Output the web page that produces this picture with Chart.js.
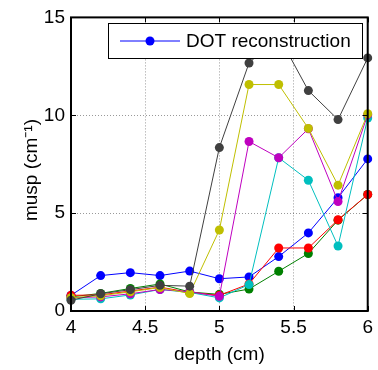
<!DOCTYPE html>
<html>
<head>
<meta charset="utf-8">
<script src="https://cdn.jsdelivr.net/npm/chart.js@4/dist/chart.umd.min.js"></script>
<style>
  html, body { margin: 0; padding: 0; background: #fff; }
  #wrap { width: 378px; height: 370px; }
</style>
</head>
<body>
<div id="wrap"><canvas id="musp"></canvas></div>
<script>
const depth = [4.0, 4.2, 4.4, 4.6, 4.8, 5.0, 5.2, 5.4, 5.6, 5.8, 6.0];

const blueVals    = [0.80, 1.81, 1.96, 1.81, 2.04, 1.65, 1.74, 2.78, 3.99, 5.79, 7.77];
const greenVals   = [0.72, 0.90, 1.15, 1.38, 0.97, 0.85, 1.12, 2.03, 2.94, 4.64, 5.95];
const redVals     = [0.80, 0.82, 1.02, 1.22, 0.95, 0.80, 1.38, 3.22, 3.22, 4.66, 5.95];
const cyanVals    = [0.60, 0.62, 0.82, 1.10, 0.95, 0.67, 1.35, 7.83, 6.68, 3.32, 9.86];
const magentaVals = [0.68, 0.72, 0.88, 1.10, 0.98, 0.75, 8.66, 7.83, 9.31, 5.59, 10.03];
const yellowVals  = [0.68, 0.78, 0.98, 1.20, 0.89, 4.14, 11.57, 11.57, 9.33, 6.43, 10.08];
const grayVals    = [0.55, 0.88, 1.09, 1.31, 1.27, 8.35, 12.67, 14.05, 11.26, 9.78, 12.93];

const xTicks = [4, 4.5, 5, 5.5, 6];
const yTicks = [0, 5, 10, 15];

const legendLabel = "DOT reconstruction";
const yTitle = "musp (cm\u207B\u00B9)";

const FONT = "'Liberation Sans', Arial, sans-serif";
Chart.defaults.font.family = FONT;
Chart.defaults.font.size = 19;
Chart.defaults.color = "#000";

function series(vals, color, order) {
    return {
        data: depth.map((d, i) => ({ x: d, y: vals[i] })),
        borderColor: color,
        backgroundColor: color,
        pointBackgroundColor: color,
        pointBorderWidth: 0,
        pointRadius: 4.5,
        borderWidth: 1,
        tension: 0,
        clip: false,
        order: order,
    };
}

// box, inward ticks, y title and the in-plot legend, drawn MATLAB style
const framePlugin = {
    id: "frame",
    afterDatasetsDraw(chart) {
        const { ctx, chartArea: a, scales } = chart;
        ctx.save();

        // legend box
        const lx = 108, ly = 23, lw = 254, lh = 35;
        ctx.fillStyle = "#fff";
        ctx.fillRect(lx, ly, lw, lh);
        ctx.strokeStyle = "#000";
        ctx.lineWidth = 1;
        ctx.strokeRect(lx + 0.5, ly + 0.5, lw, lh);
        const my = ly + lh / 2 + 0.5;
        ctx.strokeStyle = "#0000ff";
        ctx.beginPath();
        ctx.moveTo(120, my);
        ctx.lineTo(180, my);
        ctx.stroke();
        ctx.fillStyle = "#0000ff";
        ctx.beginPath();
        ctx.arc(150, my, 4.5, 0, Math.PI * 2);
        ctx.fill();
        ctx.fillStyle = "#000";
        ctx.font = "19px " + FONT;
        ctx.textBaseline = "middle";
        ctx.fillText(legendLabel, 186, my + 1);

        // y axis title
        ctx.save();
        ctx.translate(32, 170);
        ctx.rotate(-Math.PI / 2);
        ctx.textAlign = "center";
        ctx.fillText(yTitle, 0, 0);
        ctx.restore();

        // axes box
        ctx.strokeStyle = "#000";
        ctx.lineWidth = 2;
        ctx.strokeRect(a.left, a.top, a.right - a.left, a.bottom - a.top);

        // inward ticks
        ctx.lineWidth = 1;
        const len = 5;
        ctx.beginPath();
        for (const t of xTicks) {
            const x = Math.round(scales.x.getPixelForValue(t)) + 0.5;
            ctx.moveTo(x, a.bottom);
            ctx.lineTo(x, a.bottom - len);
            ctx.moveTo(x, a.top);
            ctx.lineTo(x, a.top + len);
        }
        for (const t of yTicks) {
            const y = Math.round(scales.y.getPixelForValue(t)) + 0.5;
            ctx.moveTo(a.left, y);
            ctx.lineTo(a.left + len, y);
            ctx.moveTo(a.right, y);
            ctx.lineTo(a.right - len, y);
        }
        ctx.stroke();
        ctx.restore();
    },
};

const gridOpts = {
    color: "rgba(0,0,0,0.4)",
    lineWidth: 1,
    drawTicks: false,
};

new Chart(document.getElementById("musp"), {
    type: "line",
    data: {
        datasets: [
            series(grayVals, "#404040", 0),
            series(yellowVals, "#bfbf00", 1),
            series(magentaVals, "#bf00bf", 2),
            series(cyanVals, "#00bfbf", 3),
            series(redVals, "#ff0000", 4),
            series(greenVals, "#008000", 5),
            series(blueVals, "#0000ff", 6),
        ],
    },
    options: {
        responsive: true,
        maintainAspectRatio: false,
        animation: false,
        layout: { autoPadding: false, padding: { left: 0, top: 13, right: 6, bottom: 0 } },
        plugins: { legend: { display: false }, tooltip: { enabled: false } },
        scales: {
            x: {
                type: "linear",
                min: 4,
                max: 6,
                afterBuildTicks: (s) => { s.ticks = xTicks.map(v => ({ value: v })); },
                afterFit: (s) => { s.height = 59; },
                ticks: { padding: 5, callback: (v) => String(v) },
                grid: gridOpts,
                border: { display: false, dash: [1, 2] },
                title: { display: true, text: "depth (cm)", padding: { top: 0, bottom: 4 } },
            },
            y: {
                min: 0,
                max: 15,
                afterBuildTicks: (s) => { s.ticks = yTicks.map(v => ({ value: v })); },
                afterFit: (s) => { s.width = 71; },
                ticks: { padding: 6 },
                grid: gridOpts,
                border: { display: false, dash: [1, 2] },
            },
        },
    },
    plugins: [framePlugin],
});
</script>
</body>
</html>
